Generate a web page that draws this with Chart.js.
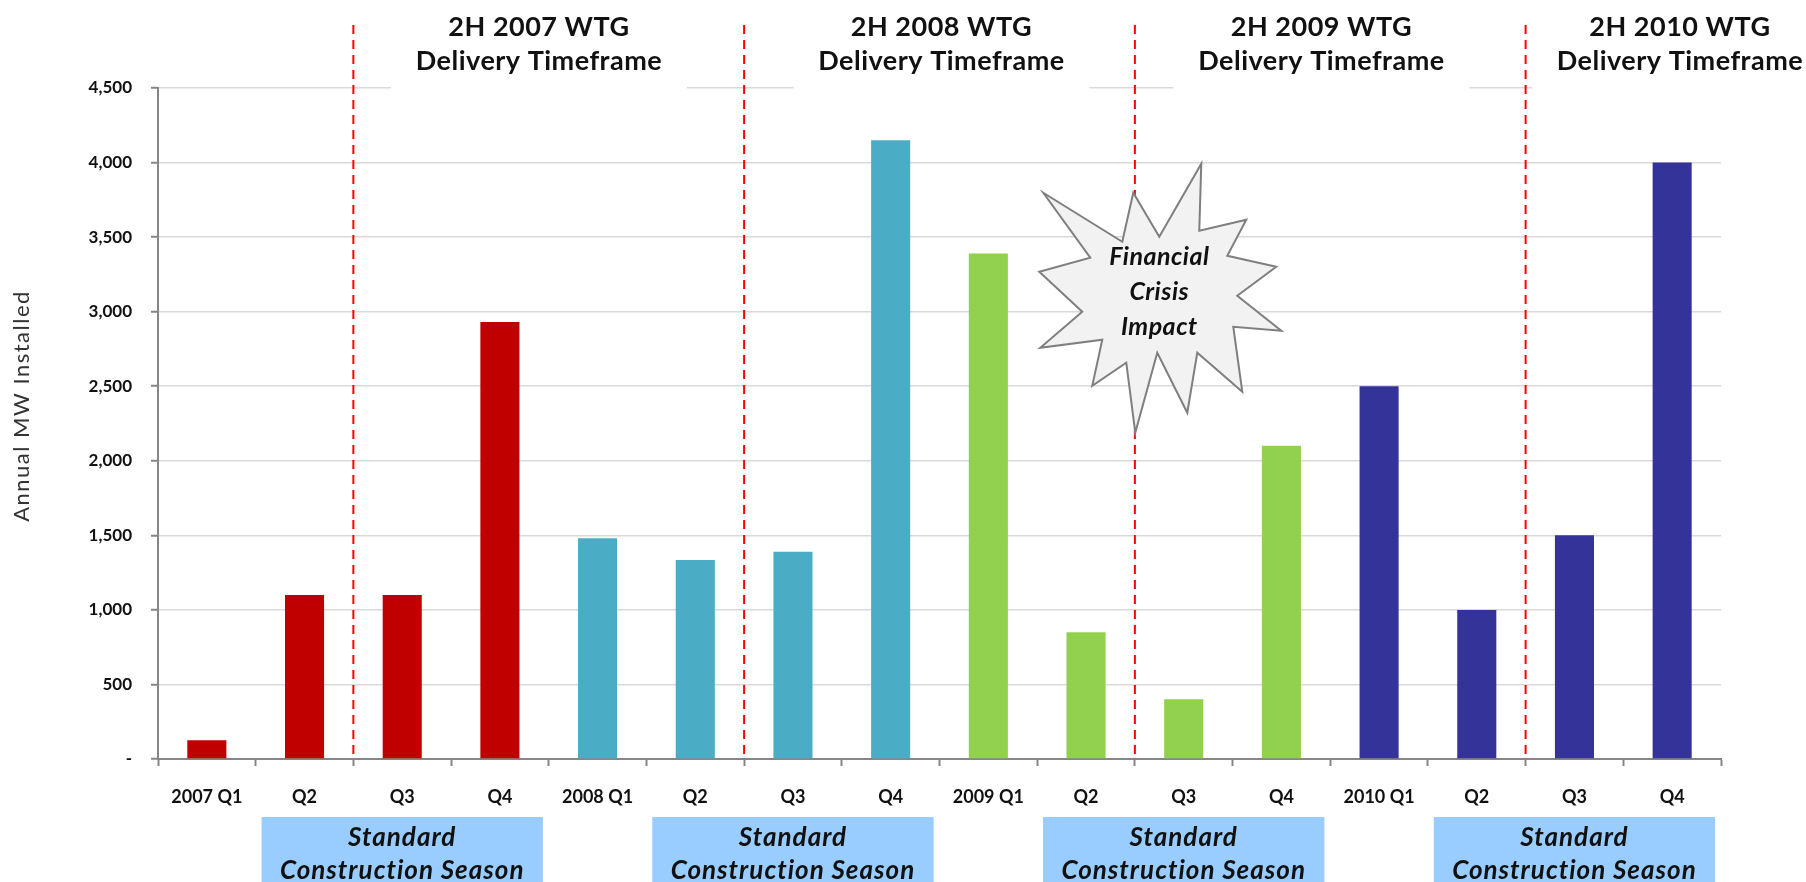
<!DOCTYPE html>
<html>
<head>
<meta charset="utf-8">
<script src="https://cdn.jsdelivr.net/npm/chart.js@4.4.1/dist/chart.umd.min.js"></script>
<style>
  html, body { margin: 0; padding: 0; background: #fff; }
  #wrap { width: 1806px; height: 882px; position: relative; }
</style>
</head>
<body>
<div id="wrap"><canvas id="mwChart"></canvas></div>
<script>
const categories = ['2007 Q1', 'Q2', 'Q3', 'Q4', '2008 Q1', 'Q2', 'Q3', 'Q4',
                    '2009 Q1', 'Q2', 'Q3', 'Q4', '2010 Q1', 'Q2', 'Q3', 'Q4'];
const mwInstalled = [125, 1100, 1100, 2930, 1480, 1335, 1390, 4150,
                     3390, 850, 400, 2100, 2500, 1000, 1500, 4000];
const deliveryYears = ['2007', '2008', '2009', '2010'];
const yearColors = ['#C00000', '#4BACC6', '#92D050', '#333399'];
const yTickLabels = ['-', '500', '1,000', '1,500', '2,000', '2,500', '3,000', '3,500', '4,000', '4,500'];
const crisisLines = ['Financial', 'Crisis', 'Impact'];

const FONT = 'Lato, "Open Sans", sans-serif';

// one colour per year, four quarters each
const barColors = categories.map((c, i) => yearColors[Math.floor(i / 4)]);

// starburst outline, offsets from its centre
const burst = [
  [-117, -107], [-38, -58], [-27, -107], [-1, -63], [41, -136], [39, -69],
  [86, -80], [67, -44], [116, -33], [77, -4], [121, 31], [73, 27],
  [82, 92], [37, 53], [27, 113], [-3, 53], [-25, 133], [-34, 63],
  [-68, 86], [-58, 40], [-120, 48], [-78, 12], [-121, -28], [-70, -42]
];

const overlays = {
  id: 'overlays',
  beforeDatasetsDraw(chart) {
    const { ctx, scales: { x, y } } = chart;
    const cw = x.getPixelForValue(1) - x.getPixelForValue(0);
    const titleIdx = [3.4, 7.52, 11.41, 15.08];
    ctx.save();
    // title panels hide the top gridline
    deliveryYears.forEach((yr, k) => {
      const cx = x.getPixelForValue(titleIdx[k]);
      ctx.fillStyle = '#fff';
      ctx.fillRect(cx - 148, 0, 296, 97);
    });
    // 2H boundary markers between Q2 and Q3
    ctx.strokeStyle = '#FF0000';
    ctx.lineWidth = 2;
    ctx.setLineDash([9, 6]);
    deliveryYears.forEach((yr, k) => {
      const px = x.getPixelForValue(k * 4 + 1) + cw / 2;
      ctx.beginPath();
      ctx.moveTo(px, 25);
      ctx.lineTo(px, y.getPixelForValue(0));
      ctx.stroke();
    });
    ctx.setLineDash([]);
    ctx.fillStyle = '#111';
    ctx.textAlign = 'center';
    ctx.textBaseline = 'middle';
    ctx.font = 'bold 27px ' + FONT;
    ctx.letterSpacing = '0.5px';
    deliveryYears.forEach((yr, k) => {
      const cx = x.getPixelForValue(titleIdx[k]);
      ctx.fillText('2H ' + yr + ' WTG', cx, 27);
      ctx.fillText('Delivery Timeframe', cx, 61);
    });
    ctx.restore();
  },
  afterDatasetsDraw(chart) {
    const { ctx, scales: { x, y } } = chart;
    const cw = x.getPixelForValue(1) - x.getPixelForValue(0);
    const cx = x.getPixelForValue(9) + 0.76 * cw;
    const cy = y.getPixelForValue(3080);
    ctx.save();
    ctx.beginPath();
    burst.forEach(([dx, dy], i) => {
      if (i === 0) ctx.moveTo(cx + dx, cy + dy);
      else ctx.lineTo(cx + dx, cy + dy);
    });
    ctx.closePath();
    ctx.fillStyle = '#F2F2F2';
    ctx.fill();
    ctx.strokeStyle = '#7F7F7F';
    ctx.lineWidth = 2;
    ctx.lineJoin = 'miter';
    ctx.stroke();
    ctx.fillStyle = '#111';
    ctx.textAlign = 'center';
    ctx.textBaseline = 'middle';
    ctx.font = 'italic bold 25px ' + FONT;
    ctx.letterSpacing = '0.5px';
    crisisLines.forEach((t, i) => ctx.fillText(t, cx - 1, cy - 43 + i * 35));
    ctx.restore();
  },
  afterDraw(chart) {
    const { ctx, scales: { x, y } } = chart;
    const cw = x.getPixelForValue(1) - x.getPixelForValue(0);
    ctx.save();
    // construction season bands under Q2-Q4
    deliveryYears.forEach((yr, k) => {
      const cx = x.getPixelForValue(k * 4 + 2);
      ctx.fillStyle = '#99CCFF';
      ctx.fillRect(cx - 1.44 * cw, 817, 2.88 * cw, 70);
      ctx.fillStyle = '#111';
      ctx.textAlign = 'center';
      ctx.textBaseline = 'middle';
      ctx.font = 'italic bold 26px ' + FONT;
      ctx.letterSpacing = '1px';
      ctx.fillText('Standard', cx, 838);
      ctx.fillText('Construction Season', cx, 871);
    });
    // y axis title
    ctx.translate(22, 406);
    ctx.rotate(-Math.PI / 2);
    ctx.fillStyle = '#333';
    ctx.font = '22px ' + FONT;
    ctx.letterSpacing = '1.5px';
    ctx.textAlign = 'center';
    ctx.textBaseline = 'middle';
    ctx.fillText('Annual MW Installed', 0, 0);
    ctx.restore();
  }
};

new Chart(document.getElementById('mwChart'), {
  type: 'bar',
  data: {
    labels: categories,
    datasets: [{
      label: 'Annual MW Installed',
      data: mwInstalled,
      backgroundColor: barColors,
      barPercentage: 0.4,
      categoryPercentage: 1.0
    }]
  },
  options: {
    responsive: true,
    maintainAspectRatio: false,
    animation: false,
    layout: { padding: { top: 88, right: 85, bottom: 0, left: 0 } },
    plugins: {
      legend: { display: false },
      tooltip: { enabled: false }
    },
    scales: {
      x: {
        afterFit(scale) { scale.height = 123; },
        grid: {
          drawOnChartArea: false,
          drawTicks: true,
          tickLength: 7,
          tickColor: '#868686',
          tickWidth: 2,
          offset: true
        },
        border: { color: '#868686', width: 2 },
        ticks: {
          color: '#111',
          padding: 20,
          maxRotation: 0,
          autoSkip: false,
          font: { family: FONT, size: 18, weight: 'bold' }
        }
      },
      y: {
        min: 0,
        max: 4500,
        afterFit(scale) { scale.width = 158; },
        grid: {
          color: '#D9D9D9',
          lineWidth: 1.5,
          drawTicks: true,
          tickLength: 7,
          tickColor: '#868686',
          tickWidth: 2
        },
        border: { color: '#868686', width: 2 },
        ticks: {
          stepSize: 500,
          color: '#111',
          padding: 19,
          font: { family: FONT, size: 17, weight: 'bold' },
          callback: (v, i) => yTickLabels[i]
        }
      }
    }
  },
  plugins: [overlays]
});
</script>
</body>
</html>
